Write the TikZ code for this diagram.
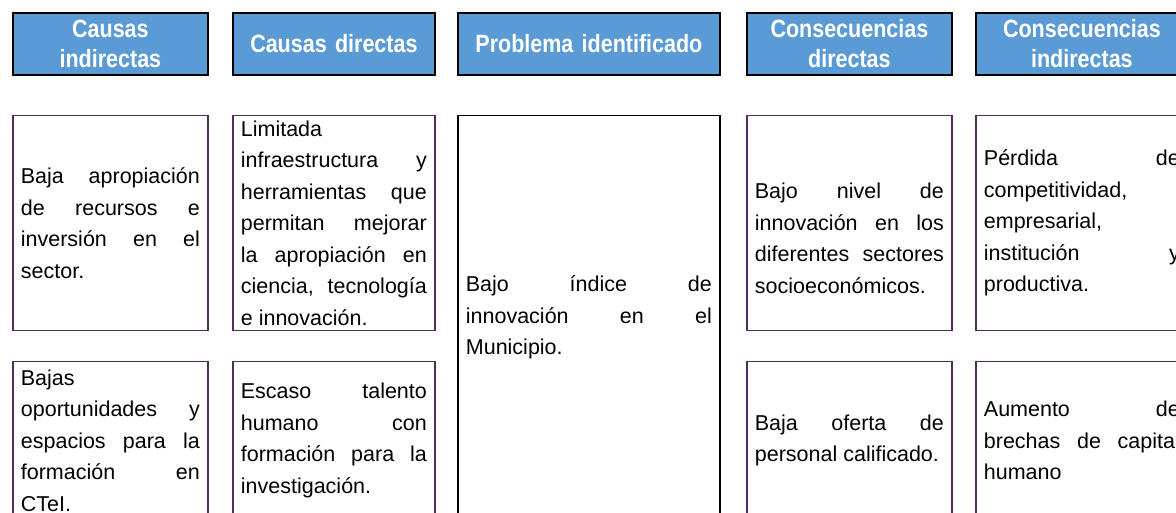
\documentclass[tikz,border=0pt]{standalone}
\usepackage{fontspec}
\setmainfont{Liberation Sans}
\newfontfamily\headfont[FakeStretch=0.86]{Liberation Sans}
\usetikzlibrary{positioning}
\definecolor{headblue}{HTML}{5B9BD5}
\definecolor{plum}{HTML}{4F2C5D}
\tolerance=10000
\hyphenpenalty=10000
\exhyphenpenalty=10000
\begin{document}
\begin{tikzpicture}[
      node distance=23.2pt,
      head/.style={
        draw=black,
        line width=1.8pt,
        fill=headblue,
        text=white,
        align=center,
        inner xsep=8pt,
        minimum height=62pt,
        font=\headfont\bfseries\fontsize{25}{30}\selectfont
      },
      cell/.style={
        draw=plum,
        line width=1.5pt,
        align=justify,
        inner xsep=8pt,
        inner ysep=4pt,
        minimum height=215pt,
        font=\fontsize{21.5}{31.5}\selectfont
      },
      core/.style={cell,draw=black,line width=1.6pt,minimum height=404pt}
    ]
    \useasboundingbox (0,0) rectangle (1176pt,-512pt);
    \clip (0,0) rectangle (1176pt,-512pt);
    % encabezados
    \node[head,anchor=north west,text width=179pt] (hci) at (12pt,-12pt) {Causas\\indirectas};
    \node[head,right=of hci,text width=186pt] (hcd) {Causas directas};
    \node[head,right=21.2pt of hcd,text width=246pt] (hpi) {Problema identificado};
    \node[head,right=25.2pt of hpi,text width=189pt] (hsd) {Consecuencias\\directas};
    \node[head,right=22.2pt of hsd,text width=196pt] (hsi) {Consecuencias\\indirectas};
    % causas
    \node[cell,below=39pt of hci,text width=179pt] (ci1) {Baja apropiación\linebreak de recursos e\linebreak inversión en el\linebreak sector.};
    \node[cell,below=29.5pt of ci1,minimum height=158pt,text width=179pt] (ci2) {Bajas\linebreak oportunidades y\linebreak espacios para la\linebreak formación en\linebreak CTeI.};
    \node[cell,below=39pt of hcd,text width=186pt] (cd1) {Limitada\linebreak infraestructura y\linebreak herramientas que\linebreak permitan mejorar\linebreak la apropiación en\linebreak ciencia, tecnología\linebreak e innovación.};
    \node[cell,below=29.5pt of cd1,minimum height=158pt,text width=186pt] (cd2) {Escaso talento\linebreak humano con\linebreak formación para la\linebreak investigación.};
    % problema
    \node[core,below=39pt of hpi,text width=246pt] (prob) {Bajo índice de\linebreak innovación en el\linebreak Municipio.};
    % consecuencias
    \node[cell,below=39pt of hsd,text width=189pt] (sd1) {\rule{0pt}{46pt}Bajo nivel de\linebreak innovación en los\linebreak diferentes sectores\linebreak socioeconómicos.};
    \node[cell,below=29.5pt of sd1,minimum height=158pt,text width=189pt] (sd2) {Baja oferta de\linebreak personal calificado.};
    \node[cell,below=39pt of hsi,text width=196pt] (si1) {Pérdida de\linebreak competitividad,\linebreak empresarial,\linebreak institución y\linebreak productiva.};
    \node[cell,below=29.5pt of si1,minimum height=158pt,text width=196pt] (si2) {Aumento de\linebreak brechas de capital\linebreak humano};
  \end{tikzpicture}
\end{document}
